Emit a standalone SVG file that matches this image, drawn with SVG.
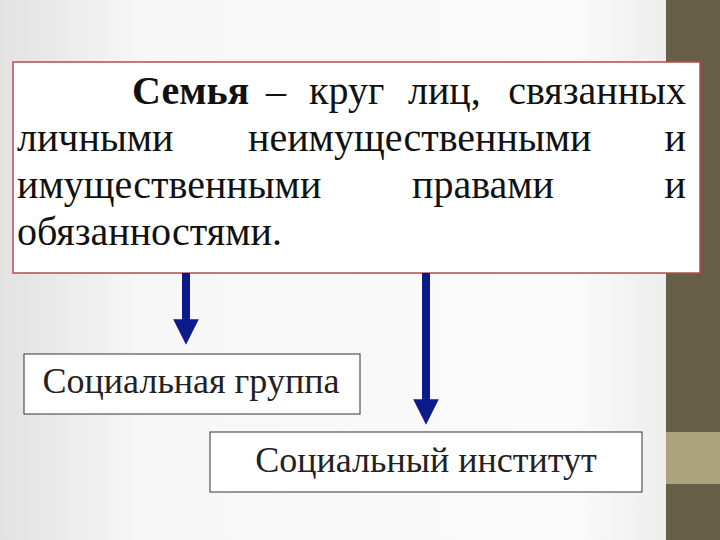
<svg xmlns="http://www.w3.org/2000/svg" width="720" height="540" viewBox="0 0 720 540">
<defs>
<linearGradient id="bg" x1="0" y1="0" x2="1" y2="0">
<stop offset="0" stop-color="#e2e2e2"/>
<stop offset="0.2" stop-color="#f7f7f7"/>
<stop offset="0.8" stop-color="#fafafa"/>
<stop offset="1" stop-color="#e6e6e6"/>
</linearGradient>
<marker id="ah" markerWidth="3.2" markerHeight="3.4" refX="0.1" refY="1.6" orient="auto" markerUnits="strokeWidth">
<path d="M0,0 L3.2,1.6 L0,3.2 z" fill="#0d1a8c"/>
</marker>
<style>
.t{font-family:"Liberation Serif","Times New Roman",serif;font-size:40px;fill:#111}
.b{font-weight:bold}
.n{font-family:"Liberation Serif","Times New Roman",serif;font-size:36px;fill:#222;text-anchor:middle}
.box{fill:#fff;stroke:#333;stroke-width:1}
.con{stroke:#0d1a8c;stroke-width:8;fill:none}
</style>
</defs>
<rect width="720" height="540" fill="url(#bg)"/>
<rect x="666" y="0" width="54" height="540" fill="#675e48"/>
<rect x="666" y="432" width="54" height="52" fill="#aca47f"/>
<g id="definition">
<rect x="13" y="62" width="687" height="211" fill="#fff" stroke="#b84a4f" stroke-width="1.5"/>
<text class="t b" x="132" y="104">Семья</text>
<text class="t" x="266" y="104">–</text>
<text class="t" x="309" y="104">круг</text>
<text class="t" x="408" y="104">лиц,</text>
<text class="t" x="686" y="104" text-anchor="end">связанных</text>
<text class="t" x="17" y="151">личными</text>
<text class="t" x="248" y="151">неимущественными</text>
<text class="t" x="686" y="151" text-anchor="end">и</text>
<text class="t" x="17" y="198">имущественными</text>
<text class="t" x="412" y="198">правами</text>
<text class="t" x="686" y="198" text-anchor="end">и</text>
<text class="t" x="17" y="245">обязанностями.</text>
</g>
<g id="connectors">
<line class="con" x1="186" y1="273" x2="186" y2="320" marker-end="url(#ah)"/>
<line class="con" x1="426" y1="273" x2="426" y2="400" marker-end="url(#ah)"/>
</g>
<g id="social-group">
<rect class="box" x="24" y="354" width="336" height="60"/>
<text class="n" x="191" y="393">Социальная группа</text>
</g>
<g id="social-institution">
<rect class="box" x="210" y="432" width="432" height="60"/>
<text class="n" x="426" y="472">Социальный институт</text>
</g>
</svg>
